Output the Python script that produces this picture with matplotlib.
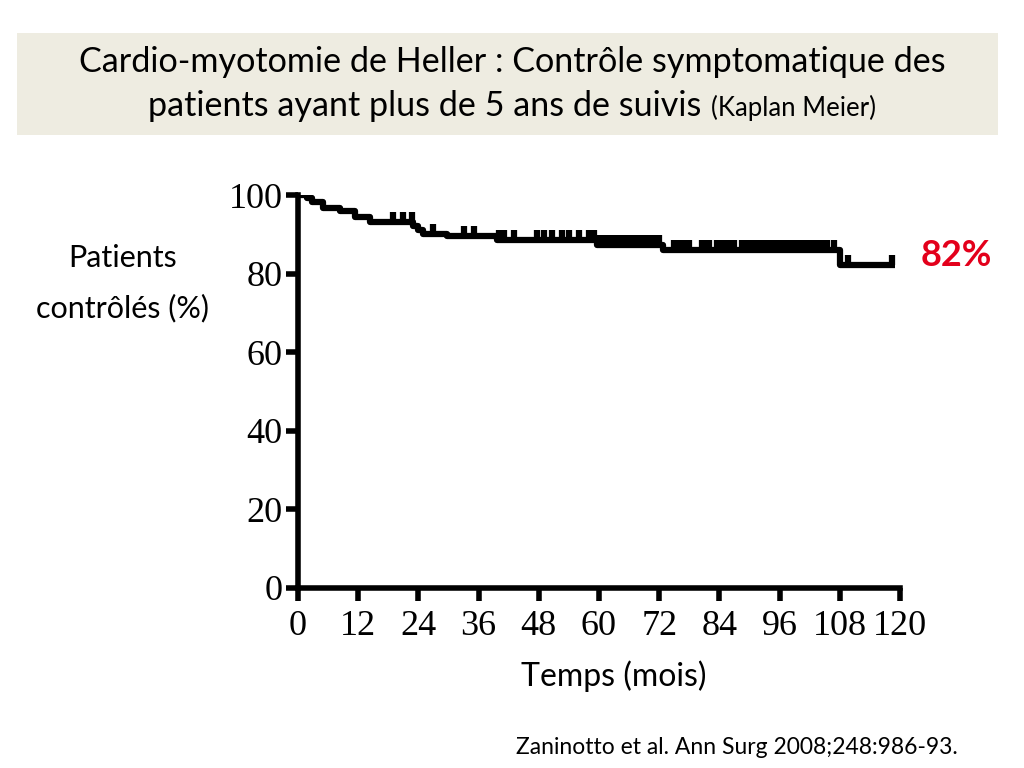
import numpy as np
import matplotlib.pyplot as plt
from matplotlib.patches import Rectangle

# Kaplan-Meier steps (months, % controlled after the drop)
event_times = [0, 1.8, 2.8, 5.0, 8.4, 11.4, 14.4, 23.0, 24.0, 25.0, 29.7, 39.7, 59.6, 72.8, 108.0]
survival = [100, 99.2, 98.3, 96.8, 96.0, 94.3, 93.1, 92.0, 91.0, 90.2, 89.6, 88.6, 87.3, 86.0, 82.2]
end_time = 119

# censored patients (tick marks on the curve)
censor_times = [19, 21, 22.7, 27, 33, 35, 40, 41, 43, 47.6, 49, 50.6, 52.6, 54, 56, 58, 59,
                60, 60.8, 61.6, 62.4, 63.2, 64, 64.8, 65.6, 66.4, 67.2, 68, 68.8, 69.6, 70.4, 71.2, 72,
                75, 76, 77, 78, 80.5, 81.3, 82, 83.5, 84.3, 85.1, 86, 87, 88.5, 89.5, 90.5, 91.5, 92.5,
                93.5, 94.4, 95.3, 96.2, 97.1, 98, 98.9, 99.8, 100.7, 101.5, 102.5, 103.5, 104.5, 105.5,
                106.8, 109.6, 118.4]

xticks = [0, 12, 24, 36, 48, 60, 72, 84, 96, 108, 120]
yticks = [0, 20, 40, 60, 80, 100]

plt.rcParams['font.family'] = ['Lato', 'DejaVu Sans']

fig = plt.figure(figsize=(10.24, 7.68), dpi=100)

# title banner
fig.patches.append(Rectangle((17 / 1024, 1 - 135 / 768), 981 / 1024, 102 / 768,
                             transform=fig.transFigure, facecolor='#eeece1', edgecolor='none', zorder=0))
fig.text(0.5, 1 - 62 / 768, 'Cardio-myotomie de Heller : Contrôle symptomatique des',
         ha='center', va='center', fontsize=24.6)

# second line: big part + smaller "(Kaplan Meier)", centred together
renderer = fig.canvas.get_renderer()
part1 = fig.text(0, 1 - 106 / 768, 'patients ayant plus de 5 ans de suivis ', ha='left',
                 va='center', fontsize=24.6)
part2 = fig.text(0, 1 - 108 / 768, '(Kaplan Meier)', ha='left', va='center', fontsize=18.5)
w1 = part1.get_window_extent(renderer=renderer).width
w2 = part2.get_window_extent(renderer=renderer).width
x0 = (1024 - w1 - w2) / 2
part1.set_x(x0 / 1024)
part2.set_x((x0 + w1) / 1024)

ax = fig.add_axes([298 / 1024, 1 - 588 / 768, 602 / 1024, 393 / 768])

t = np.array(event_times + [end_time])
s = np.array(survival + [survival[-1]])
ax.step(t, s, where='post', color='black', lw=4.5, solid_capstyle='butt', zorder=3)

ct = np.array(censor_times)
cs = np.array(survival)[np.searchsorted(event_times, ct, side='right') - 1]
ax.plot(ct, cs, ls='none', marker=2, markersize=7.5, mew=4.5, color='black', zorder=3)

ax.set_xlim(0, 120)
ax.set_ylim(0, 100)
ax.set_xticks(xticks)
ax.set_yticks(yticks)
ax.set_xticklabels([str(v) for v in xticks], family='Liberation Serif', fontsize=26)
ax.set_yticklabels([str(v) for v in yticks], family='Liberation Serif', fontsize=26)
for side in ['top', 'right']:
    ax.spines[side].set_visible(False)
for side in ['left', 'bottom']:
    ax.spines[side].set_linewidth(4)
ax.tick_params(width=4, length=9, pad=2)
ax.tick_params(axis='x', pad=7)
ax.set_facecolor('none')

fig.text(123 / 1024, 1 - 258 / 768, 'Patients', ha='center', va='center', fontsize=22)
fig.text(123 / 1024, 1 - 308 / 768, 'contrôlés (%)', ha='center', va='center', fontsize=22)
fig.text(956 / 1024, 1 - 255 / 768, '82%', ha='center', va='center', fontsize=26,
         fontweight='bold', color='#e3001b')
fig.text(614 / 1024, 1 - 676 / 768, 'Temps (mois)', ha='center', va='center', fontsize=23)
fig.text(958 / 1024, 1 - 747 / 768, 'Zaninotto et al. Ann Surg 2008;248:986-93.', ha='right',
         va='center', fontsize=16.5)

fig.savefig('out.png', dpi=100)
